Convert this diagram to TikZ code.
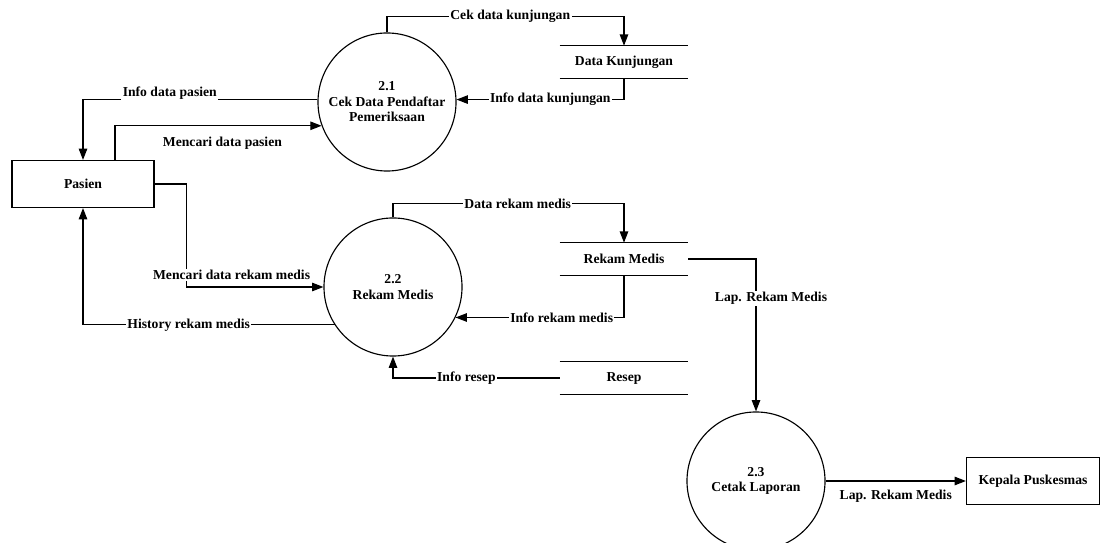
\documentclass[tikz,border=0pt]{standalone}
\usepackage{fontspec}
\setmainfont{Liberation Serif}
\usetikzlibrary{arrows.meta}

\begin{document}
\begin{tikzpicture}[x=0.025cm,y=-0.025cm,
  every node/.style={font=\fontsize{9.7}{11}\selectfont\bfseries},
  proses/.style={draw,circle,line width=0.8pt,minimum size=3.45cm,inner sep=0pt,align=center},
  entitas/.style={draw,line width=0.8pt,minimum height=1.175cm},
  simpan/.style={minimum width=3.2cm,minimum height=0.8cm},
  alir/.style={line width=0.8pt,-{Triangle[length=8pt,width=6pt]}},
  ket/.style={fill=white,inner sep=1pt}]
  \useasboundingbox (0,0) rectangle (1104,543);

  % entitas luar
  \node[entitas,minimum width=3.55cm] (pasien) at (83,184) {Pasien};
  \node[entitas,minimum width=3.325cm] (kepala) at (1033,481) {Kepala Puskesmas};

  % proses
  \node[proses] (p21) at (387,102) {2.1\\Cek Data Pendaftar\\Pemeriksaan};
  \node[proses] (p22) at (393,287) {2.2\\Rekam Medis};
  \node[proses] (p23) at (756,481) {2.3\\Cetak Laporan};

  % data store
  \node[simpan] (dk) at (624,62) {Data Kunjungan};
  \node[simpan] (rm) at (624,259) {Rekam Medis};
  \node[simpan] (resep) at (624,378) {Resep};
  \foreach \s in {dk,rm,resep}
    \draw[line width=0.8pt] (\s.north west) -- (\s.north east) (\s.south west) -- (\s.south east);

  % aliran data
  \draw[alir] (p21.north) -- ++(0,-16) -| node[ket,pos=0.26] {Cek data kunjungan} (dk.north);
  \draw[alir] (dk.south) |- node[ket,pos=0.72] {Info data kunjungan} (p21.2);
  \draw[alir] (p21.178) -| node[ket,pos=0.315,yshift=0.15cm] {Info data pasien} (pasien.north);
  \draw[alir] (pasien.north) ++(32,0) |- node[below=4pt,pos=0.76] {Mencari data pasien} (p21.200);
  \draw[alir] (pasien.east) -- ++(32,0) |- node[ket,pos=0.5,xshift=1.125cm,yshift=0.3cm] {Mencari data rekam medis} (p22.west);
  \draw[alir] (p22.213) -| node[ket,pos=0.29] {History rekam medis} (pasien.south);
  \draw[alir] (p22.north) -- ++(0,-14) -| node[ket,pos=0.27] {Data rekam medis} (rm.north);
  \draw[alir] (rm.south) |- node[ket,pos=0.685] {Info rekam medis} (p22.-26);
  \draw[alir] (resep.west) -| node[ket,pos=0.28] {Info resep} (p22.south);
  \draw[alir] (rm.east) -| node[ket,pos=0.63,xshift=0.375cm] {Lap. Rekam Medis} (p23.north);
  \draw[alir] (p23.east) -- node[below=3pt] {Lap. Rekam Medis} (kepala.west);
\end{tikzpicture}
\end{document}
